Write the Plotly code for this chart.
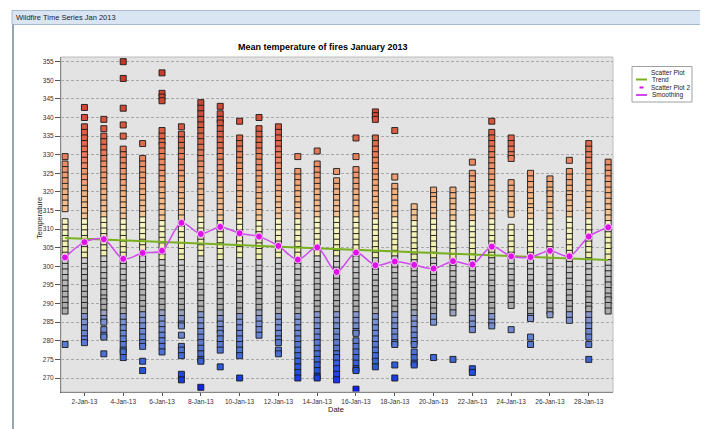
import plotly.graph_objects as go

# ---------------- data ----------------
days = ["2013-01-%02d" % d for d in range(1, 30)]

jan01 = [329.5, 327.5, 326, 324.5, 323, 321.5, 320, 318.5, 317, 315.5, 312, 310.5, 309, 307.5, 306, 304.5, 303, 301.5, 300, 298.5, 297, 295.5, 294, 292.5, 291, 289.5, 288, 279]
jan02 = [342.7, 340, 337.5, 336, 334.5, 333, 331.5, 330, 328.5, 327, 325.5, 324, 322.5, 321, 319.5, 318, 316.5, 315, 313.5, 312, 310.5, 309, 307.5, 306, 304.5, 303, 301.5, 300, 298.5, 297, 295.5, 294, 292.5, 291, 289.5, 288, 286.5, 285, 283.5, 282, 280.5, 279.5]
jan03 = [339.5, 337, 335, 333.5, 332, 330.5, 329, 327.5, 326, 324.5, 323, 321.5, 320, 318.5, 317, 315.5, 314, 312.5, 311, 309.5, 308, 306.5, 305, 303.5, 302, 300.5, 299, 297.5, 296, 294.5, 293, 291.5, 290.5, 289, 287.5, 286, 285, 283, 281.5, 281, 276.5]
jan04 = [355, 350.5, 342.5, 338, 335, 331.5, 330, 328.5, 327, 325.5, 324, 322.5, 321, 319.5, 318, 316.5, 315, 313.5, 312, 310.5, 309, 307.5, 306, 304.5, 303, 301.5, 300, 298.5, 297, 295.5, 294, 292.5, 291, 289.5, 288, 286.5, 285, 283.5, 282, 280.5, 279, 277.5, 277, 275.5]
jan05 = [333, 329, 327.5, 326, 324.5, 323, 321.5, 320, 318.5, 317, 315.5, 314, 312.5, 311, 309.5, 308, 306.5, 305, 303.5, 302, 300.5, 299, 297.5, 296, 294.5, 293, 291.5, 290, 288.5, 287, 285.5, 284, 282.5, 281, 279.5, 278.5, 274.5, 272]
jan06 = [352, 346.5, 345.5, 344.5, 336.5, 335, 333.5, 332.5, 331, 329.5, 328, 326.5, 325, 323.5, 322, 320.5, 319, 317.5, 316, 314.5, 313, 311.5, 310, 308.5, 307, 305.5, 304, 302.5, 301, 299.5, 298, 296.5, 295, 293.5, 292, 290.5, 289, 287.5, 286, 284.5, 283, 281.5, 280, 278.5, 277]
jan07 = [337.5, 335.5, 334, 332.5, 331, 329.5, 328, 326.5, 325, 323.5, 322, 320.5, 319, 317.5, 316, 314.5, 313, 311.5, 310, 308.5, 307, 305.5, 304, 302.5, 301, 299.5, 298, 296.5, 295, 293.5, 292, 290.5, 289, 287.5, 286, 284.5, 284, 281.5, 278.5, 277.5, 276, 271, 269.5]
jan08 = [344, 342.5, 341, 339.5, 338, 336.5, 335, 333.5, 332, 330.5, 329, 327.5, 326, 324.5, 323, 321.5, 320, 318.5, 317, 315.5, 314, 312.5, 311, 309.5, 308, 306.5, 305, 303.5, 302, 300.5, 299, 297.5, 296, 294.5, 293, 291.5, 290, 288.5, 287, 285.5, 284, 282.5, 281, 279.5, 278, 276.5, 275, 274.5, 267.5]
jan09 = [343, 341, 339.5, 338.5, 337, 335.5, 334, 332.5, 331, 329.5, 328, 326.5, 325, 323.5, 322, 320.5, 319, 317.5, 316, 314.5, 313, 311.5, 310, 308.5, 307, 305.5, 304, 302.5, 301, 299.5, 298, 296.5, 295, 293.5, 292, 290.5, 289, 287.5, 286, 284.5, 283, 282, 280.5, 279, 277.5, 273]
jan10 = [339, 334.5, 333, 331.5, 330, 328.5, 327, 325.5, 324, 322.5, 321, 319.5, 318, 316.5, 315, 313.5, 312, 310.5, 309, 307.5, 306, 304.5, 303, 301.5, 300, 298.5, 297, 295.5, 294, 292.5, 291, 289.5, 288, 286.5, 285, 283.5, 282, 280.5, 279, 277.5, 276, 270]
jan11 = [340, 337, 335.5, 334, 332.5, 331, 329.5, 328, 326.5, 325, 323.5, 322, 320.5, 319, 317.5, 316, 314.5, 313, 311.5, 310, 308.5, 307, 305.5, 304, 302.5, 301, 299.5, 298, 296.5, 295, 293.5, 292, 290.5, 289, 287.5, 286, 284.5, 283, 281.5]
jan12 = [337.5, 336, 334.5, 333, 331.5, 330, 328.5, 327, 325.5, 324, 322.5, 321, 319.5, 318, 316.5, 315, 313.5, 312, 310.5, 309, 307.5, 306, 304.5, 303, 301.5, 300, 298.5, 297, 295.5, 294, 292.5, 291, 289.5, 288, 286.5, 285, 283.5, 282, 280.5, 279.5, 277.5, 276.5]
jan13 = [329.5, 325.5, 324, 322.5, 321, 319.5, 318, 316.5, 315, 313.5, 312, 310.5, 309, 307.5, 306, 304.5, 303, 301.5, 300, 298.5, 297, 295.5, 294, 292.5, 291, 289.5, 288, 286.5, 285, 283.5, 282, 280.5, 279, 277.5, 276, 274.5, 273, 271.5, 270]
jan14 = [331, 327.5, 326, 324.5, 323, 321.5, 320, 318.5, 317, 315.5, 314, 312.5, 311, 309.5, 308, 306.5, 305, 303.5, 302, 300.5, 299, 297.5, 296, 294.5, 293, 291.5, 290, 288.5, 287, 285.5, 284, 282.5, 281, 279.5, 278, 276.5, 275, 273.5, 272, 270.5, 270]
jan15 = [325.5, 323, 321.5, 320, 318.5, 317, 315.5, 314, 312.5, 311, 309.5, 308, 306.5, 305, 303.5, 302, 300.5, 299, 297.5, 296, 294.5, 293, 291.5, 290, 288.5, 287, 285.5, 284, 282.5, 281, 279.5, 278, 276.5, 275.5, 274, 272.5, 271, 269.5]
jan16 = [334.5, 329.5, 326, 324.5, 323, 321.5, 320, 318.5, 317, 315.5, 314, 312.5, 311, 309.5, 308, 306.5, 305, 303.5, 302, 300.5, 299, 297.5, 296, 294.5, 293, 291.5, 290, 288.5, 287, 285.5, 284, 282.5, 282, 280, 278.5, 277, 275.5, 274, 272.5, 272, 267]
jan17 = [341.5, 340.5, 339.5, 334.5, 333, 331.5, 330, 328.5, 327, 325.5, 324, 322.5, 321, 319.5, 318, 316.5, 315, 313.5, 312, 310.5, 309, 307.5, 306, 304.5, 303, 301.5, 300, 298.5, 297, 295.5, 294, 292.5, 291, 289.5, 288, 286.5, 285, 283.5, 282, 280.5, 279, 277.5, 276, 274.5, 273]
jan18 = [336.5, 324, 321.5, 320, 318.5, 317, 315.5, 314, 312.5, 311, 309.5, 308, 306.5, 305, 303.5, 302, 300.5, 299, 297.5, 296, 294.5, 293, 291.5, 290, 288.5, 287, 285.5, 284, 282.5, 281, 279.5, 279, 273.5, 270]
jan19 = [316, 314.5, 313, 311.5, 310, 308.5, 307, 305.5, 304, 302.5, 301, 299.5, 298, 296.5, 295, 293.5, 292, 290.5, 289, 287.5, 286, 284.5, 283, 281.5, 280, 279, 277, 275.5, 274, 273.5]
jan20 = [320.5, 319, 318, 316.5, 315, 313.5, 312, 310.5, 309, 307.5, 306, 304.5, 303, 301.5, 300, 298.5, 297, 295.5, 294, 292.5, 291, 289.5, 288, 286.5, 285, 275.5]
jan21 = [320.5, 319, 317.5, 316, 314.5, 313, 311.5, 310, 308.5, 307, 305.5, 304, 302.5, 301, 299.5, 298, 296.5, 295, 293.5, 292, 290.5, 289, 287.5, 275]
jan22 = [328, 325, 323.5, 322, 320.5, 319, 317.5, 316, 314.5, 313, 311.5, 310, 308.5, 307, 305.5, 304, 302.5, 301, 299.5, 298, 296.5, 295, 293.5, 292, 290.5, 289, 287.5, 286, 284.5, 283, 272.5, 271.5]
jan23 = [339, 336, 334.5, 333, 331.5, 330, 328.5, 327, 325.5, 324, 322.5, 321, 319.5, 318, 316.5, 315, 313.5, 312, 310.5, 309, 307.5, 306, 304.5, 303, 301.5, 300, 298.5, 297, 295.5, 294, 292.5, 291, 289.5, 288, 286.5, 285, 284]
jan24 = [334.5, 333, 331.5, 330, 329, 322.5, 321, 319.5, 318, 316.5, 315, 314, 310.5, 309, 307.5, 306, 304.5, 303, 301.5, 300, 298.5, 297, 295.5, 294, 292.5, 291, 289.5, 283]
jan25 = [325, 323.5, 322, 320.5, 319, 317.5, 316, 315, 313.5, 312, 310.5, 309, 307.5, 306, 304.5, 303, 301.5, 300, 298.5, 297, 295.5, 294, 292.5, 291, 289.5, 288, 286.5, 286, 281, 279]
jan26 = [323.5, 322, 320.5, 319.5, 318, 316.5, 315, 313.5, 312, 310.5, 309, 307.5, 306, 304.5, 303, 301.5, 300, 298.5, 297, 295.5, 294, 292.5, 291, 289.5, 288, 287]
jan27 = [328.5, 325.5, 324, 322.5, 321, 319.5, 318.5, 317, 315.5, 314, 312.5, 311, 309.5, 308, 306.5, 305, 303.5, 302, 300.5, 299, 297.5, 296, 294.5, 293, 291.5, 290, 288.5, 287, 285.5]
jan28 = [333, 331.5, 330, 328.5, 327, 325.5, 324, 322.5, 321, 319.5, 318, 316.5, 315, 313.5, 312, 310.5, 309, 307.5, 306, 304.5, 303, 301.5, 300, 298.5, 297, 295.5, 294, 292.5, 291, 289.5, 288.5, 287, 285.5, 284, 282.5, 281, 279, 275]
jan29 = [328, 326.5, 325, 323.5, 322, 320.5, 319, 317.5, 316, 314.5, 313, 311.5, 310, 308.5, 307, 305.5, 304, 302.5, 301, 299.5, 298, 296.5, 295, 293.5, 292, 291, 289.5, 288]

temps_by_day = [jan01, jan02, jan03, jan04, jan05, jan06, jan07, jan08, jan09, jan10,
                jan11, jan12, jan13, jan14, jan15, jan16, jan17, jan18, jan19, jan20,
                jan21, jan22, jan23, jan24, jan25, jan26, jan27, jan28, jan29]

daily_means = [302.4, 306.5, 307.3, 302.0, 303.6, 304.2, 311.7, 308.7, 310.6, 308.9,
               308.0, 305.5, 301.8, 305.1, 298.5, 303.7, 300.3, 301.3, 300.4, 299.4,
               301.4, 300.5, 305.3, 302.7, 302.5, 304.2, 302.7, 308.0, 310.5]

trend_days = ["2013-01-01", "2013-01-08", "2013-01-15", "2013-01-22", "2013-01-29"]
trend_vals = [307.6, 306.1, 304.6, 303.1, 301.7]

tick_days = ["2013-01-02", "2013-01-04", "2013-01-06", "2013-01-08", "2013-01-10",
             "2013-01-12", "2013-01-14", "2013-01-16", "2013-01-18", "2013-01-20",
             "2013-01-22", "2013-01-24", "2013-01-26", "2013-01-28"]
tick_labels = ["2-Jan-13", "4-Jan-13", "6-Jan-13", "8-Jan-13", "10-Jan-13", "12-Jan-13",
               "14-Jan-13", "16-Jan-13", "18-Jan-13", "20-Jan-13", "22-Jan-13",
               "24-Jan-13", "26-Jan-13", "28-Jan-13"]
y_ticks = [270, 275, 280, 285, 290, 295, 300, 305, 310, 315, 320, 325, 330, 335, 340, 345, 350, 355]

# ---------------- build ----------------
xs, ys = [], []
for d, vals in zip(days, temps_by_day):
    xs += [d] * len(vals)
    ys += vals

CMIN, CMAX = 266.0, 356.0
def t(v):
    return (v - CMIN) / (CMAX - CMIN)

colorscale = [
    [0.0, "#0a14f5"],
    [t(272), "#2352de"],
    [t(277), "#4d72d4"],
    [t(283), "#7089d2"],
    [t(287.4), "#8a9ad0"],
    [t(287.6), "#aaaaaa"],
    [t(295), "#b6b6b6"],
    [t(302.2), "#d2d2d2"],
    [t(302.4), "#efeeaa"],
    [t(312.8), "#f9f7c4"],
    [t(313.0), "#f6c898"],
    [t(320), "#f3b07f"],
    [t(327), "#ee9068"],
    [t(333), "#e06a4c"],
    [t(342), "#d04a36"],
    [1.0, "#c03828"],
]

FONT = "Liberation Sans, Arial, sans-serif"

# The page body has an 8px margin; the figure is sized/offset to compensate.
OX, OY = 8, 8
W, H = 708 - OX, 429 - OY

fig = go.Figure()
fig.add_trace(go.Scatter(
    x=xs, y=ys, mode="markers", name="Scatter Plot", showlegend=False,
    marker=dict(symbol="square", size=6, color=ys, cmin=CMIN, cmax=CMAX,
                colorscale=colorscale,
                line=dict(color="rgba(25,25,25,0.9)", width=1)),
))
fig.add_trace(go.Scatter(
    x=trend_days, y=trend_vals, mode="lines", name="Trend", showlegend=False,
    line=dict(color="#78b020", width=2),
))
fig.add_trace(go.Scatter(
    x=days, y=daily_means, mode="lines", name="Smoothing", showlegend=False,
    line=dict(color="#d048f0", width=1.5, shape="spline", smoothing=0.9),
))
fig.add_trace(go.Scatter(
    x=days, y=daily_means, mode="markers", name="Scatter Plot 2", showlegend=False,
    marker=dict(symbol="circle", size=7, color="#e010e8",
                line=dict(color="#f4c8f4", width=1)),
))

# pixel geometry helpers (page pixel coordinates of the plot area)
L, R, T, B = 61, 613, 57, 392
def px(x):
    return (x - L) / (R - L)
def py(y):
    return (B - y) / (B - T)

shapes = [
    # window title bar
    dict(type="rect", xref="paper", yref="paper", x0=px(12), x1=px(712), y0=py(24.5), y1=py(10.5),
         fillcolor="#dae5f3", line=dict(color="#a9b9cf", width=1), layer="above"),
    # window left frame
    dict(type="line", xref="paper", yref="paper", x0=px(13), x1=px(13), y0=py(24.5), y1=py(432),
         line=dict(color="#98a4b2", width=2)),
    # plot frame (top/right lighter)
    dict(type="rect", xref="paper", yref="paper", x0=0, x1=1, y0=0, y1=1,
         line=dict(color="#bdbdbd", width=1), layer="above"),
    # legend box
    dict(type="rect", xref="paper", yref="paper", x0=px(632), x1=px(692), y0=py(102), y1=py(66.5),
         fillcolor="white", line=dict(color="#a0a0a0", width=1)),
    dict(type="line", xref="paper", yref="paper", x0=px(636), x1=px(647), y0=py(79.5), y1=py(79.5),
         line=dict(color="#78b020", width=2)),
    dict(type="line", xref="paper", yref="paper", x0=px(639.5), x1=px(643.5), y0=py(87.5), y1=py(87.5),
         line=dict(color="#e010e8", width=2)),
    dict(type="line", xref="paper", yref="paper", x0=px(636), x1=px(647), y0=py(95), y1=py(95),
         line=dict(color="#d048f0", width=2)),
]

def ann(text, x, y, size=6.5, xanchor="left", **kw):
    d = dict(text=text, xref="paper", yref="paper", x=px(x), y=py(y), showarrow=False,
             xanchor=xanchor, yanchor="middle", font=dict(family=FONT, size=size, color="#222222"))
    d.update(kw)
    return d

annotations = [
    ann("Wildfire Time Series Jan 2013", 14, 17.5, size=7.5),
    ann("<b>Mean temperature of fires January 2013</b>", 323, 47, size=9, xanchor="center",
        font=dict(family=FONT, size=9, color="black")),
    ann("Temperature", 39, 218, size=7.5, xanchor="center", textangle=-90),
    ann("Date", 336, 409, size=7.5, xanchor="center"),
    ann("Scatter Plot", 649, 72),
    ann("Trend", 649.5, 79.5),
    ann("Scatter Plot 2", 649, 87.5),
    ann("Smoothing", 649.5, 95),
]

fig.update_layout(
    width=W, height=H,
    margin=dict(l=L - OX, r=708 - R, t=T - OY, b=429 - B),
    paper_bgcolor="white", plot_bgcolor="#e3e3e3",
    font=dict(family=FONT, size=7, color="#333333"),
    showlegend=False,
    shapes=shapes, annotations=annotations,
    xaxis=dict(type="date", range=["2012-12-31 19:00", "2013-01-29 06:00"],
               tickmode="array", tickvals=tick_days, ticktext=tick_labels,
               ticks="outside", ticklen=3, tickcolor="#555555", showgrid=False,
               showline=True, linecolor="#505050", linewidth=1, zeroline=False,
               automargin=False,
               tickfont=dict(family=FONT, size=6.5, color="#333333")),
    yaxis=dict(range=[266.24, 356.26], tickmode="array", tickvals=y_ticks,
               ticks="outside", ticklen=5, tickcolor="#555555",
               showgrid=True, gridcolor="#a9a9a9", gridwidth=1, griddash="3px,2px",
               showline=True, linecolor="#505050", linewidth=1, zeroline=False,
               automargin=False,
               tickfont=dict(family=FONT, size=6.5, color="#333333")),
)

fig.write_html("out.html")
